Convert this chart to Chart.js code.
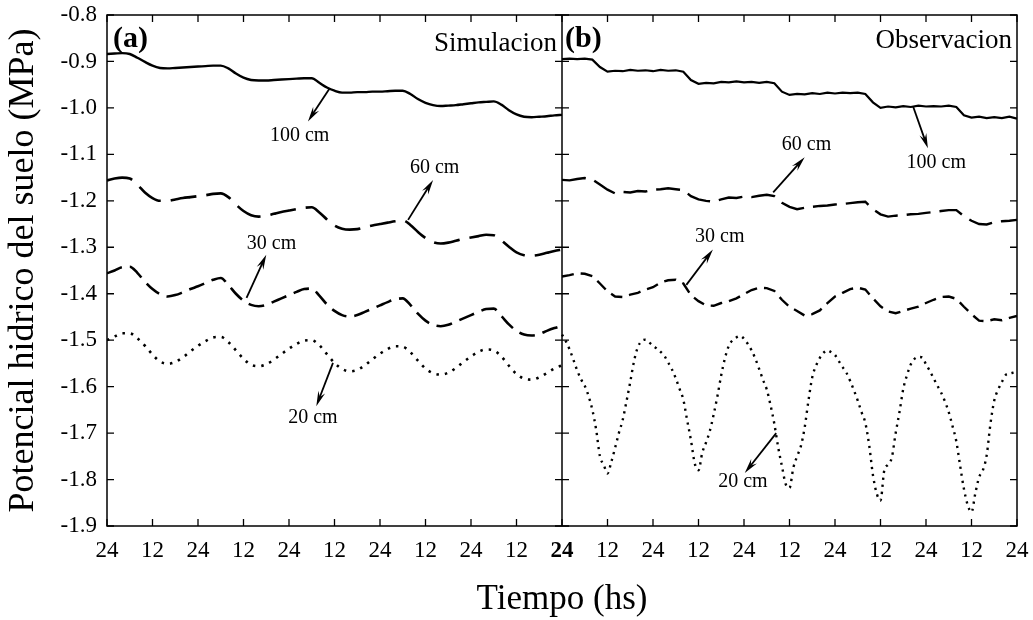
<!DOCTYPE html>
<html>
<head>
<meta charset="utf-8">
<script src="https://cdn.jsdelivr.net/npm/chart.js@4/dist/chart.umd.min.js"></script>
<style>
  html, body { margin: 0; padding: 0; background: #fff; }
  #wrap { width: 1033px; height: 620px; }
</style>
</head>
<body>
<div id="wrap"><canvas id="c" width="1033" height="620"></canvas></div>
<script>
// ---------------- DATA ----------------
// hours within each 5-day panel (2-hour grid)
const HOURS_2H = [0,2,4,6,8,10,12,14,16,18,20,22,24,26,28,30,32,34,36,38,40,42,44,46,48,50,52,54,56,58,
  60,62,64,66,68,70,72,74,76,78,80,82,84,86,88,90,92,94,96,98,100,102,104,106,108,110,112,114,116,118,120];
// hourly grid (used by the observed 20 cm series)
const HOURS_1H = [0,1,2,3,4,5,6,7,8,9,10,11,12,13,14,15,16,17,18,19,20,21,22,23,24,25,26,27,28,29,
  30,31,32,33,34,35,36,37,38,39,40,41,42,43,44,45,46,47,48,49,50,51,52,53,54,55,56,57,58,59,
  60,61,62,63,64,65,66,67,68,69,70,71,72,73,74,75,76,77,78,79,80,81,82,83,84,85,86,87,88,89,
  90,91,92,93,94,95,96,97,98,99,100,101,102,103,104,105,106,107,108,109,110,111,112,113,114,115,116,117,118,119,120];

// (a) Simulacion
const SIM_100 = [-0.884,-0.883,-0.882,-0.884,-0.892,-0.901,-0.909,-0.914,-0.915,-0.914,
  -0.913,-0.912,-0.911,-0.910,-0.909,-0.909,-0.915,-0.926,-0.935,-0.940,
  -0.941,-0.941,-0.940,-0.939,-0.938,-0.937,-0.936,-0.936,-0.946,-0.956,
  -0.963,-0.967,-0.967,-0.966,-0.966,-0.965,-0.965,-0.964,-0.963,-0.963,
  -0.970,-0.981,-0.989,-0.994,-0.996,-0.995,-0.994,-0.992,-0.990,-0.988,
  -0.987,-0.986,-0.993,-1.005,-1.014,-1.019,-1.020,-1.019,-1.018,-1.016,-1.015];
const SIM_60 = [-1.156,-1.152,-1.150,-1.152,-1.165,-1.182,-1.194,-1.200,-1.200,-1.197,
  -1.194,-1.192,-1.190,-1.188,-1.185,-1.184,-1.192,-1.208,-1.222,-1.231,
  -1.234,-1.232,-1.228,-1.224,-1.221,-1.218,-1.215,-1.214,-1.225,-1.240,
  -1.253,-1.260,-1.262,-1.261,-1.257,-1.253,-1.250,-1.247,-1.244,-1.242,
  -1.252,-1.267,-1.280,-1.289,-1.292,-1.290,-1.286,-1.282,-1.279,-1.276,
  -1.273,-1.274,-1.285,-1.299,-1.311,-1.317,-1.318,-1.316,-1.312,-1.308,-1.305];
const SIM_30 = [-1.356,-1.350,-1.343,-1.342,-1.355,-1.374,-1.390,-1.401,-1.406,-1.403,
  -1.397,-1.390,-1.384,-1.377,-1.370,-1.366,-1.381,-1.400,-1.415,-1.424,
  -1.427,-1.424,-1.417,-1.410,-1.403,-1.396,-1.390,-1.389,-1.404,-1.423,
  -1.437,-1.446,-1.449,-1.446,-1.439,-1.432,-1.425,-1.418,-1.412,-1.410,
  -1.424,-1.443,-1.458,-1.467,-1.470,-1.467,-1.460,-1.453,-1.446,-1.439,
  -1.433,-1.432,-1.448,-1.466,-1.480,-1.488,-1.490,-1.487,-1.480,-1.474,-1.469];
const SIM_20 = [-1.500,-1.492,-1.485,-1.485,-1.496,-1.512,-1.531,-1.546,-1.551,-1.547,
  -1.537,-1.524,-1.512,-1.502,-1.494,-1.493,-1.504,-1.522,-1.540,-1.553,
  -1.556,-1.552,-1.542,-1.530,-1.518,-1.508,-1.501,-1.500,-1.511,-1.530,
  -1.549,-1.562,-1.567,-1.564,-1.554,-1.541,-1.529,-1.519,-1.513,-1.514,
  -1.526,-1.544,-1.561,-1.571,-1.574,-1.570,-1.560,-1.547,-1.535,-1.525,
  -1.520,-1.522,-1.535,-1.555,-1.573,-1.583,-1.585,-1.580,-1.571,-1.561,-1.554];

// (b) Observacion
const OBS_100 = [-0.895,-0.894,-0.895,-0.894,-0.896,-0.912,-0.922,-0.920,-0.921,-0.918,
  -0.920,-0.919,-0.921,-0.918,-0.920,-0.919,-0.922,-0.940,-0.948,-0.946,
  -0.947,-0.944,-0.945,-0.943,-0.945,-0.944,-0.946,-0.944,-0.947,-0.965,
  -0.972,-0.970,-0.971,-0.968,-0.970,-0.967,-0.969,-0.967,-0.968,-0.967,
  -0.970,-0.988,-1.000,-0.997,-0.999,-0.996,-0.998,-0.995,-0.997,-0.996,
  -0.997,-0.995,-0.998,-1.016,-1.021,-1.019,-1.022,-1.020,-1.022,-1.019,-1.023];
const OBS_60 = [-1.155,-1.156,-1.153,-1.151,-1.154,-1.165,-1.176,-1.184,-1.181,-1.182,
  -1.179,-1.180,-1.176,-1.175,-1.173,-1.175,-1.177,-1.190,-1.197,-1.200,
  -1.202,-1.197,-1.193,-1.194,-1.191,-1.192,-1.189,-1.187,-1.190,-1.204,
  -1.213,-1.218,-1.215,-1.213,-1.211,-1.210,-1.208,-1.207,-1.205,-1.203,
  -1.202,-1.218,-1.229,-1.234,-1.232,-1.231,-1.229,-1.228,-1.226,-1.224,
  -1.222,-1.220,-1.220,-1.233,-1.243,-1.250,-1.251,-1.246,-1.244,-1.243,-1.241];
const OBS_30 = [-1.363,-1.360,-1.356,-1.357,-1.362,-1.378,-1.395,-1.406,-1.407,-1.402,
  -1.398,-1.391,-1.386,-1.376,-1.371,-1.370,-1.378,-1.403,-1.416,-1.425,
  -1.426,-1.420,-1.416,-1.410,-1.401,-1.392,-1.387,-1.388,-1.394,-1.413,
  -1.428,-1.437,-1.447,-1.444,-1.436,-1.420,-1.406,-1.398,-1.390,-1.387,
  -1.391,-1.410,-1.427,-1.438,-1.442,-1.437,-1.432,-1.428,-1.420,-1.413,
  -1.407,-1.406,-1.411,-1.428,-1.444,-1.458,-1.459,-1.455,-1.457,-1.452,-1.448];
const OBS_20 = [-1.488,-1.502,-1.520,-1.542,-1.565,-1.584,-1.598,-1.620,-1.650,-1.692,
  -1.750,-1.768,-1.787,-1.762,-1.732,-1.700,-1.672,-1.632,-1.590,-1.545,
  -1.515,-1.502,-1.499,-1.505,-1.512,-1.518,-1.525,-1.534,-1.548,-1.563,
  -1.582,-1.605,-1.628,-1.672,-1.715,-1.765,-1.780,-1.742,-1.720,-1.695,
  -1.660,-1.620,-1.575,-1.538,-1.512,-1.500,-1.494,-1.491,-1.497,-1.508,
  -1.522,-1.540,-1.562,-1.585,-1.606,-1.640,-1.680,-1.730,-1.771,-1.810,
  -1.818,-1.775,-1.750,-1.728,-1.688,-1.630,-1.580,-1.555,-1.538,-1.527,
  -1.522,-1.526,-1.532,-1.545,-1.558,-1.570,-1.588,-1.608,-1.630,-1.655,
  -1.678,-1.725,-1.790,-1.830,-1.845,-1.780,-1.768,-1.752,-1.700,-1.655,
  -1.605,-1.575,-1.552,-1.540,-1.536,-1.537,-1.552,-1.566,-1.582,-1.598,
  -1.613,-1.632,-1.655,-1.685,-1.718,-1.770,-1.820,-1.855,-1.870,-1.830,
  -1.795,-1.780,-1.748,-1.680,-1.630,-1.607,-1.590,-1.575,-1.572,-1.570,-1.568];

const X_TICK_LABELS = ['24', '12'];        // alternate midnight / noon
const PANEL_HOURS = 120;                    // each panel = 5 days
const Y_MIN = -1.9, Y_MAX = -0.8, Y_STEP = 0.1;

const PANEL_TITLES = ['Simulacion', 'Observacion'];
const PANEL_TAGS = ['(a)', '(b)'];

// depth annotations: [label, tail(x,y), head(x,y), text(x,y)] in data units
const ANNOTATIONS = [
  ['100 cm', [58.7, -0.958], [53.0, -1.029], [50.8, -1.060]],
  ['60 cm',  [79.4, -1.241], [86.0, -1.155], [86.4, -1.129]],
  ['30 cm',  [36.8, -1.409], [42.0, -1.316], [43.4, -1.292]],
  ['20 cm',  [59.6, -1.549], [55.2, -1.642], [54.3, -1.667]],
  ['100 cm', [212.6, -0.997], [216.5, -1.087], [218.7, -1.119]],
  ['60 cm',  [175.7, -1.182], [184.0, -1.106], [184.5, -1.080]],
  ['30 cm',  [152.8, -1.381], [159.8, -1.305], [161.6, -1.277]],
  ['20 cm',  [176.5, -1.700], [168.2, -1.786], [167.7, -1.804]]
];

// ---------------- BUILD ----------------
const SERIF = '"Liberation Serif", "Times New Roman", serif';
const toXY = (hours, vals, offset) => vals.map((v, i) => ({ x: hours[i] + offset, y: v }));

function ds(label, hours, vals, offset, dash, width, tension) {
  return {
    label, data: toXY(hours, vals, offset),
    borderColor: '#000', backgroundColor: '#000',
    borderWidth: width, borderDash: dash, borderCapStyle: 'butt',
    pointRadius: 0, pointHoverRadius: 0, fill: false,
    tension: tension, cubicInterpolationMode: tension > 0 ? 'monotone' : 'default'
  };
}

const datasets = [
  ds('Sim 100 cm', HOURS_2H, SIM_100, 0, [], 2.4, 0.4),
  ds('Sim 60 cm',  HOURS_2H, SIM_60,  0, [26, 10], 2.6, 0.4),
  ds('Sim 30 cm',  HOURS_2H, SIM_30,  0, [16, 8], 2.6, 0.4),
  ds('Sim 20 cm',  HOURS_2H, SIM_20,  0, [2.5, 6], 2.6, 0.4),
  ds('Obs 100 cm', HOURS_2H, OBS_100, PANEL_HOURS, [], 2.2, 0),
  ds('Obs 60 cm',  HOURS_2H, OBS_60,  PANEL_HOURS, [24, 9], 2.4, 0),
  ds('Obs 30 cm',  HOURS_2H, OBS_30,  PANEL_HOURS, [12, 7], 2.4, 0),
  ds('Obs 20 cm',  HOURS_1H, OBS_20,  PANEL_HOURS, [2.2, 4.8], 2.4, 0.2)
];

const frameTicks = {
  id: 'frameTicks',
  afterDatasetsDraw(chart) {
    const { ctx, chartArea: a, scales: { x, y } } = chart;
    const T = 7;
    const xMid = x.getPixelForValue(PANEL_HOURS);
    ctx.save();
    ctx.strokeStyle = '#000';
    ctx.lineWidth = 1.5;
    ctx.strokeRect(a.left, a.top, a.right - a.left, a.bottom - a.top);
    ctx.beginPath(); ctx.moveTo(xMid, a.top); ctx.lineTo(xMid, a.bottom); ctx.stroke();
    ctx.lineWidth = 1.3;
    ctx.beginPath();
    x.ticks.forEach(t => {
      const px = x.getPixelForValue(t.value);
      ctx.moveTo(px, a.bottom); ctx.lineTo(px, a.bottom - T);
      ctx.moveTo(px, a.top); ctx.lineTo(px, a.top + T);
    });
    y.ticks.forEach(t => {
      const py = y.getPixelForValue(t.value);
      ctx.moveTo(a.left, py); ctx.lineTo(a.left + T, py);
      ctx.moveTo(xMid - T, py); ctx.lineTo(xMid + T, py);
      ctx.moveTo(a.right, py); ctx.lineTo(a.right - T, py);
    });
    ctx.stroke();

    // panel tags and titles
    ctx.fillStyle = '#000';
    ctx.textBaseline = 'alphabetic';
    ctx.font = 'bold 30px ' + SERIF;
    ctx.textAlign = 'left';
    ctx.fillText(PANEL_TAGS[0], a.left + 6, 47);
    ctx.fillText(PANEL_TAGS[1], xMid + 3, 47);
    ctx.font = '27px ' + SERIF;
    ctx.textAlign = 'right';
    ctx.fillText(PANEL_TITLES[0], xMid - 5, 51);
    ctx.fillText(PANEL_TITLES[1], a.right - 5, 48);

    // depth annotations
    ctx.font = '20px ' + SERIF;
    ctx.textAlign = 'center';
    ctx.textBaseline = 'middle';
    ANNOTATIONS.forEach(([txt, tail, head, pos]) => {
      const x1 = x.getPixelForValue(tail[0]), y1 = y.getPixelForValue(tail[1]);
      const x2 = x.getPixelForValue(head[0]), y2 = y.getPixelForValue(head[1]);
      const ang = Math.atan2(y2 - y1, x2 - x1);
      const L = 15, W = 3.6;
      const cx = Math.cos(ang), sy = Math.sin(ang);
      ctx.lineWidth = 1.8;
      ctx.beginPath(); ctx.moveTo(x1, y1); ctx.lineTo(x2 - cx * L * 0.6, y2 - sy * L * 0.6); ctx.stroke();
      ctx.beginPath();
      ctx.moveTo(x2, y2);
      ctx.lineTo(x2 - cx * L - sy * W, y2 - sy * L + cx * W);
      ctx.lineTo(x2 - cx * L * 0.65, y2 - sy * L * 0.65);
      ctx.lineTo(x2 - cx * L + sy * W, y2 - sy * L - cx * W);
      ctx.closePath();
      ctx.fill();
      ctx.fillText(txt, x.getPixelForValue(pos[0]), y.getPixelForValue(pos[1]));
    });
    ctx.restore();
  }
};

new Chart(document.getElementById('c'), {
  type: 'line',
  data: { datasets },
  options: {
    responsive: false,
    animation: false,
    devicePixelRatio: 1,
    layout: { padding: { left: 0, top: 15, right: 16, bottom: 0 } },
    plugins: { legend: { display: false }, tooltip: { enabled: false }, title: { display: false } },
    scales: {
      x: {
        type: 'linear', min: 0, max: 2 * PANEL_HOURS,
        grid: { display: false, drawTicks: false },
        border: { display: false },
        ticks: {
          stepSize: 12, autoSkip: false, maxRotation: 0, padding: 11, color: '#000',
          font: ctx => ({ family: SERIF, size: 23, weight: (ctx.tick && ctx.tick.value === PANEL_HOURS) ? 'bold' : 'normal' }),
          callback: v => (v % 24 === 0 ? X_TICK_LABELS[0] : X_TICK_LABELS[1])
        },
        title: {
          display: true, text: 'Tiempo (hs)', color: '#000',
          font: { family: SERIF, size: 35, lineHeight: 1 },
          padding: { top: 0, bottom: 2.5 }
        },
        afterFit: s => { s.height = 94; s.paddingLeft = 0; s.paddingRight = 0; }
      },
      y: {
        type: 'linear', min: Y_MIN, max: Y_MAX,
        grid: { display: false, drawTicks: false },
        border: { display: false },
        ticks: {
          stepSize: Y_STEP, padding: 10, color: '#000',
          font: { family: SERIF, size: 23 },
          callback: v => Number(v).toFixed(1)
        },
        title: {
          display: true, text: 'Potencial hidrico del suelo (MPa)', color: '#000',
          font: { family: SERIF, size: 36, lineHeight: 1 },
          padding: { top: 6, bottom: 0 }
        },
        afterFit: s => { s.width = 107; s.paddingTop = 0; s.paddingBottom = 0; }
      }
    }
  },
  plugins: [frameTicks]
});
</script>
</body>
</html>
